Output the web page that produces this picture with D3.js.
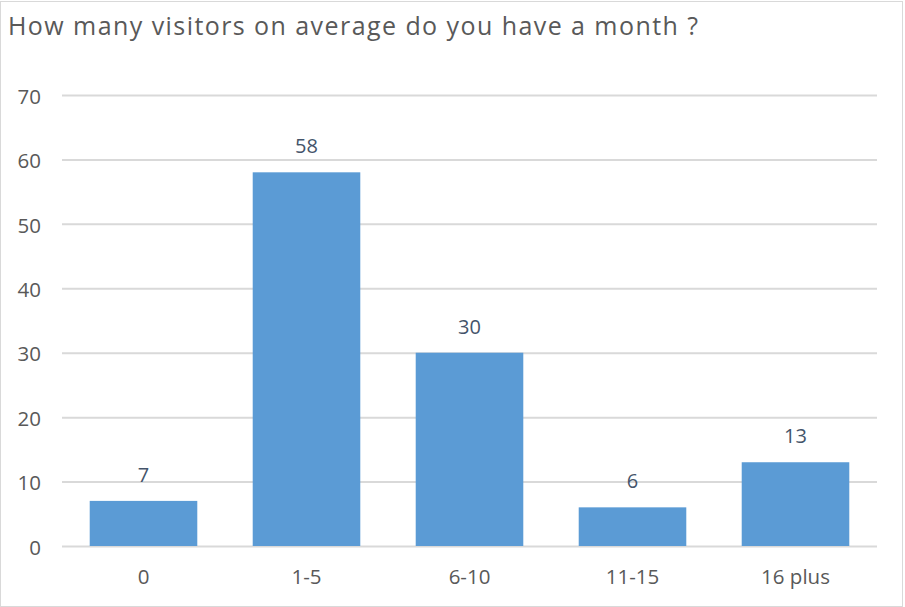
<!DOCTYPE html>
<html>
<head>
<meta charset="utf-8">
<script src="https://cdn.jsdelivr.net/npm/d3@7"></script>
<style>
  body { margin: 0; background: #fff; }
  svg { display: block; font-family: "Open Sans", sans-serif; }
</style>
</head>
<body>
<script>
// chart data
var categories = ['0', '1-5', '6-10', '11-15', '16 plus'];
var visitors = [7, 58, 30, 6, 13];
var yTicks = [0, 10, 20, 30, 40, 50, 60, 70];
var title = 'How many visitors on average do you have a month ?';

var width = 905, height = 607;
var margin = {top: 95, right: 28, bottom: 61, left: 62};

var svg = d3.select('body').append('svg')
    .attr('width', width)
    .attr('height', height);

// outer frame
svg.append('rect')
    .attr('x', 0.5).attr('y', 1.5)
    .attr('width', width - 3).attr('height', height - 2)
    .attr('fill', '#fff')
    .attr('stroke', '#d9d9d9');

// title, stretched a bit to match the original width
svg.append('text')
    .attr('x', 8).attr('y', 35)
    .attr('font-size', 25)
    .attr('fill', '#595959')
    .attr('textLength', 690)
    .attr('lengthAdjust', 'spacing')
    .text(title);

var x = d3.scaleBand()
    .domain(categories)
    .range([margin.left, width - margin.right])
    .paddingInner(0.34)
    .paddingOuter(0.17);

var y = d3.scaleLinear()
    .domain([0, 70])
    .range([height - margin.bottom, margin.top]);

// gridlines + y labels
var yAxis = svg.append('g')
    .attr('transform', 'translate(' + margin.left + ',0)')
    .call(d3.axisLeft(y).tickValues(yTicks).tickSize(-(width - margin.left - margin.right)).tickPadding(21));
yAxis.select('.domain').remove();
yAxis.selectAll('line').attr('stroke', '#d9d9d9').attr('stroke-width', 2);
yAxis.selectAll('text')
    .attr('font-size', 20.5)
    .attr('fill', '#595959')
    .attr('font-family', '"Open Sans"')
    .attr('dy', '0.4em');

// bars
svg.selectAll('.bar')
    .data(visitors)
    .enter().append('rect')
    .attr('class', 'bar')
    .attr('x', function(d, i) { return x(categories[i]); })
    .attr('y', function(d) { return y(d); })
    .attr('width', x.bandwidth())
    .attr('height', function(d) { return y(0) - y(d); })
    .attr('fill', '#5b9bd5');

// value labels
svg.selectAll('.val')
    .data(visitors)
    .enter().append('text')
    .attr('class', 'val')
    .attr('x', function(d, i) { return x(categories[i]) + x.bandwidth() / 2; })
    .attr('y', function(d) { return y(d) - 19; })
    .attr('text-anchor', 'middle')
    .attr('font-size', 20)
    .attr('fill', '#44546a')
    .text(function(d) { return d; });

// x labels
var xAxis = svg.append('g')
    .attr('transform', 'translate(0,' + (height - margin.bottom) + ')')
    .call(d3.axisBottom(x).tickSize(0).tickPadding(0));
xAxis.select('.domain').remove();
xAxis.selectAll('text')
    .attr('font-size', 20.5)
    .attr('fill', '#595959')
    .attr('font-family', '"Open Sans"')
    .attr('dy', 38);
</script>
</body>
</html>
